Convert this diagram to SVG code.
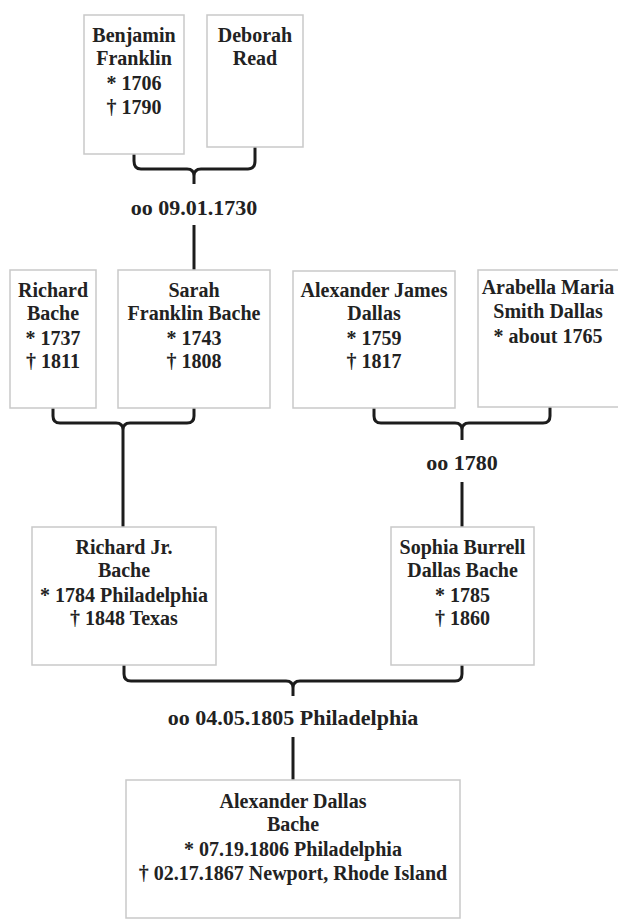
<svg xmlns="http://www.w3.org/2000/svg" width="618" height="919" viewBox="0 0 618 919">
<style>
.bg{fill:#ffffff}
.box{fill:#ffffff;stroke:#c9c9c9;stroke-width:1.5}
.t{font-family:"Liberation Serif","Times New Roman",serif;font-weight:bold;font-size:20px;fill:#222;text-anchor:middle}
.lbl{font-family:"Liberation Serif","Times New Roman",serif;font-weight:bold;font-size:22px;fill:#222;text-anchor:middle}
.c{fill:none;stroke:#1c1c1c;stroke-width:3;stroke-linecap:butt;stroke-linejoin:round}
</style>
<rect class="bg" x="0" y="0" width="618" height="919"/>

<g id="connectors">
  <path class="c" d="M134,154 V161 Q134,169 141,169 H187 Q194,169 194,176 V184 M255,147 V161 Q255,169 248,169 H201 Q194,169 194,176"/>
  <path class="c" d="M194,225 V270"/>
  <path class="c" d="M53,408 V416 Q53,423 60,423 H116 Q123,423 123,430 V527 M194,408 V416 Q194,423 187,423 H130 Q123,423 123,430"/>
  <path class="c" d="M374,408 V416 Q374,423 381,423 H455 Q462,423 462,430 V440 M550,407 V416 Q550,423 543,423 H469 Q462,423 462,430"/>
  <path class="c" d="M462,482 V527"/>
  <path class="c" d="M124,665 V674 Q124,681 131,681 H286 Q293,681 293,688 V696 M462,665 V674 Q462,681 455,681 H300 Q293,681 293,688"/>
  <path class="c" d="M293,737 V780"/>
</g>

<g id="label-1730"><text class="lbl" x="194" y="215">oo 09.01.1730</text></g>
<g id="label-1780"><text class="lbl" x="462" y="470">oo 1780</text></g>
<g id="label-1805"><text class="lbl" x="293" y="725">oo 04.05.1805 Philadelphia</text></g>

<g id="benjamin-franklin">
  <rect class="box" x="84" y="15" width="100" height="139"/>
  <text class="t" x="134" y="42">Benjamin</text>
  <text class="t" x="134" y="65">Franklin</text>
  <text class="t" x="134" y="90">* 1706</text>
  <text class="t" x="134" y="114">† 1790</text>
</g>
<g id="deborah-read">
  <rect class="box" x="207" y="15" width="96" height="132"/>
  <text class="t" x="255" y="42">Deborah</text>
  <text class="t" x="255" y="65">Read</text>
</g>

<g id="richard-bache">
  <rect class="box" x="10" y="270" width="86" height="138"/>
  <text class="t" x="53" y="297">Richard</text>
  <text class="t" x="53" y="320">Bache</text>
  <text class="t" x="53" y="345">* 1737</text>
  <text class="t" x="53" y="368">† 1811</text>
</g>
<g id="sarah-franklin-bache">
  <rect class="box" x="118" y="270" width="152" height="138"/>
  <text class="t" x="194" y="297">Sarah</text>
  <text class="t" x="194" y="320">Franklin Bache</text>
  <text class="t" x="194" y="345">* 1743</text>
  <text class="t" x="194" y="368">† 1808</text>
</g>
<g id="alexander-james-dallas">
  <rect class="box" x="293" y="271" width="162" height="137"/>
  <text class="t" x="374" y="297">Alexander James</text>
  <text class="t" x="374" y="320">Dallas</text>
  <text class="t" x="374" y="345">* 1759</text>
  <text class="t" x="374" y="368">† 1817</text>
</g>
<g id="arabella-maria-smith-dallas">
  <rect class="box" x="478" y="270" width="150" height="137"/>
  <text class="t" x="548" y="294">Arabella Maria</text>
  <text class="t" x="548" y="318">Smith Dallas</text>
  <text class="t" x="548" y="343">* about 1765</text>
</g>

<g id="richard-jr-bache">
  <rect class="box" x="32" y="527" width="184" height="138"/>
  <text class="t" x="124" y="554">Richard Jr.</text>
  <text class="t" x="124" y="577">Bache</text>
  <text class="t" x="124" y="602">* 1784 Philadelphia</text>
  <text class="t" x="124" y="625">† 1848 Texas</text>
</g>
<g id="sophia-burrell-dallas-bache">
  <rect class="box" x="391" y="527" width="143" height="138"/>
  <text class="t" x="462.5" y="554">Sophia Burrell</text>
  <text class="t" x="462.5" y="577">Dallas Bache</text>
  <text class="t" x="462.5" y="602">* 1785</text>
  <text class="t" x="462.5" y="625">† 1860</text>
</g>

<g id="alexander-dallas-bache">
  <rect class="box" x="126" y="780" width="334" height="138"/>
  <text class="t" x="293" y="808">Alexander Dallas</text>
  <text class="t" x="293" y="831">Bache</text>
  <text class="t" x="293" y="856">* 07.19.1806 Philadelphia</text>
  <text class="t" x="293" y="880">† 02.17.1867 Newport, Rhode Island</text>
</g>
</svg>
